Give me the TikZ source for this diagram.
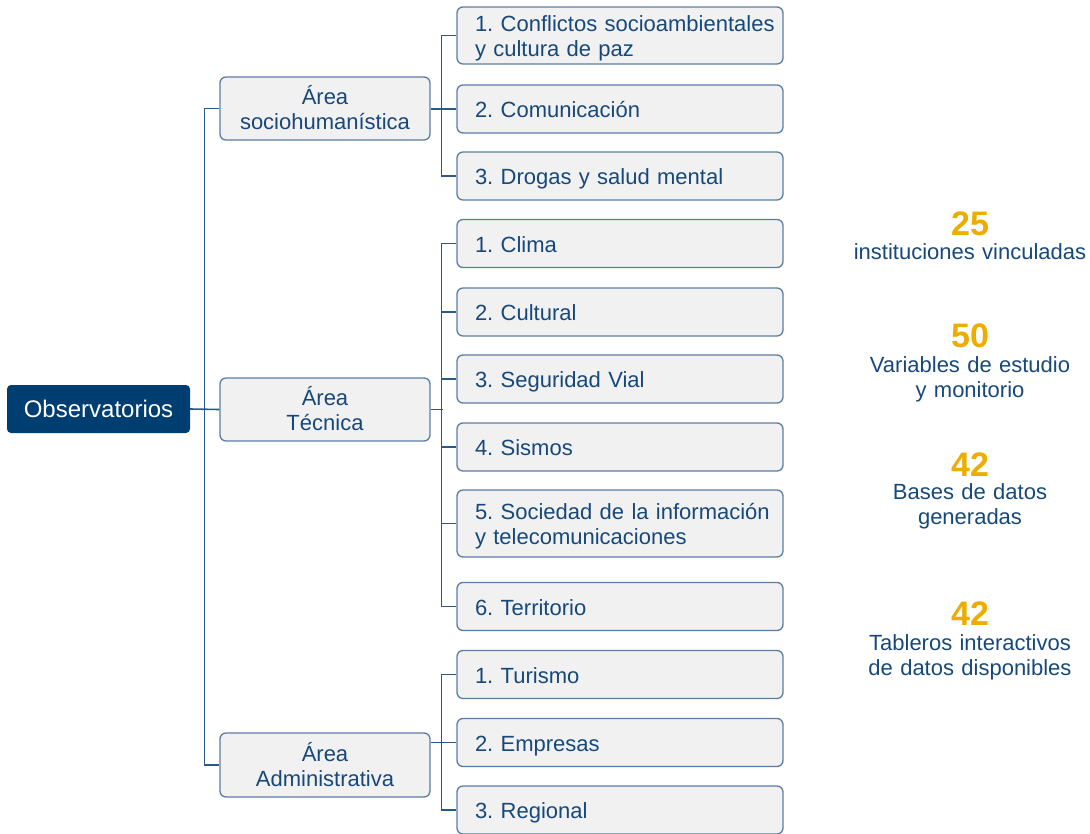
\documentclass[tikz,border=0pt]{standalone}
\usepackage{fontspec}
\setmainfont{Liberation Sans}
\frenchspacing
\definecolor{navy}{HTML}{003D70}
\definecolor{txtblue}{HTML}{17487B}
\definecolor{linecol}{HTML}{2B5987}
\definecolor{boxline}{HTML}{5A7EA3}
\definecolor{boxfill}{HTML}{F1F1F1}
\definecolor{gold}{HTML}{EDAC00}
\tikzset{
  conn/.style={draw=linecol, line width=1.6pt},
  rootbox/.style={fill=navy, rounded corners=4pt, text=white, inner sep=0pt,
    minimum width=183pt, minimum height=48pt, font=\fontsize{24}{27}\selectfont},
  areabox/.style={draw=boxline, fill=boxfill, rounded corners=6pt, line width=1.3pt,
    inner xsep=5pt, inner ysep=0pt, text width=200pt, text height=17pt, text depth=25pt,
    align=center, text=txtblue, font=\fontsize{22}{25}\selectfont},
  itembox/.style={draw=boxline, fill=boxfill, rounded corners=6pt, line width=1.3pt,
    inner xsep=18pt, inner ysep=0pt, text width=290pt, text height=17pt, text depth=0pt,
    minimum height=48pt, align=left, text=txtblue, font=\fontsize{22}{25}\selectfont},
  twolines/.style={text depth=25pt},
  statnum/.style={anchor=base, text=gold, font=\fontsize{34}{38}\selectfont\bfseries},
  stattext/.style={anchor=base, text=txtblue, text width=260pt, align=center,
    inner sep=0pt, font=\fontsize{22}{25}\selectfont}
}
\begin{document}
\begin{tikzpicture}[x=1pt, y=-1pt]
  \useasboundingbox (0,0) rectangle (1090,833);

  % raiz y areas
  \node[rootbox] (root) at (98.5,409) {Observatorios};
  \node[areabox, minimum height=63pt] (socio) at (325,108.5) {Área\\sociohumanística};
  \node[areabox, minimum height=63pt] (tecnica) at (325,409.5) {Área\\Técnica};
  \node[areabox, minimum height=64pt] (admin) at (325,765) {Área\\Administrativa};

  % observatorios
  \node[itembox, twolines, minimum height=57pt] (s1) at (620,35.5) {\mbox{1. Conflictos socioambientales}\\y cultura de paz};
  \node[itembox] (s2) at (620,109) {2. Comunicación};
  \node[itembox] (s3) at (620,176) {3. Drogas y salud mental};

  \node[itembox] (t1) at (620,243.5) {1. Clima};
  \node[itembox] (t2) at (620,312) {2. Cultural};
  \node[itembox] (t3) at (620,379) {3. Seguridad Vial};
  \node[itembox] (t4) at (620,447) {4. Sismos};
  \node[itembox, twolines, minimum height=67pt] (t5) at (620,523.5) {\mbox{5. Sociedad de la información}\\y telecomunicaciones};
  \node[itembox] (t6) at (620,606.5) {6. Territorio};

  \node[itembox] (a1) at (620,674.5) {1. Turismo};
  \node[itembox] (a2) at (620,742.5) {2. Empresas};
  \node[itembox] (a3) at (620,810) {3. Regional};

  % conectores
  \draw[conn] (root.east) -- (tecnica.west);
  \draw[conn] (socio.west) -- ++(-15,0) |- (admin.west);

  \draw[conn] (s1.west) -- ++(-15,0) |- (s3.west);
  \draw[conn] (s2.west) -- (s2.west -| socio.east);

  \draw[conn] (t1.west) -- ++(-15,0) |- (t6.west);
  \foreach \n in {t2,t3,t4,t5}
    \draw[conn] (\n.west) -- ++(-15,0);
  \draw[conn] (tecnica.east) -- ++(12,0);

  \draw[conn] (a1.west) -- ++(-15,0) |- (a3.west);
  \draw[conn] (a2.west) -- (a2.west -| admin.east);

  % cifras
  \node[statnum] (n1) at (970,235) {25};
  \node[stattext] (d1) at (970,259) {instituciones vinculadas};
  \node[statnum] (n2) at (970,347) {50};
  \node[stattext] (d2) at (970,372) {Variables de estudio\\y monitorio};
  \node[statnum] (n3) at (970,476) {42};
  \node[stattext] (d3) at (970,499) {Bases de datos\\generadas};
  \node[statnum] (n4) at (970,625) {42};
  \node[stattext] (d4) at (970,650) {Tableros interactivos\\de datos disponibles};
\end{tikzpicture}
\end{document}
